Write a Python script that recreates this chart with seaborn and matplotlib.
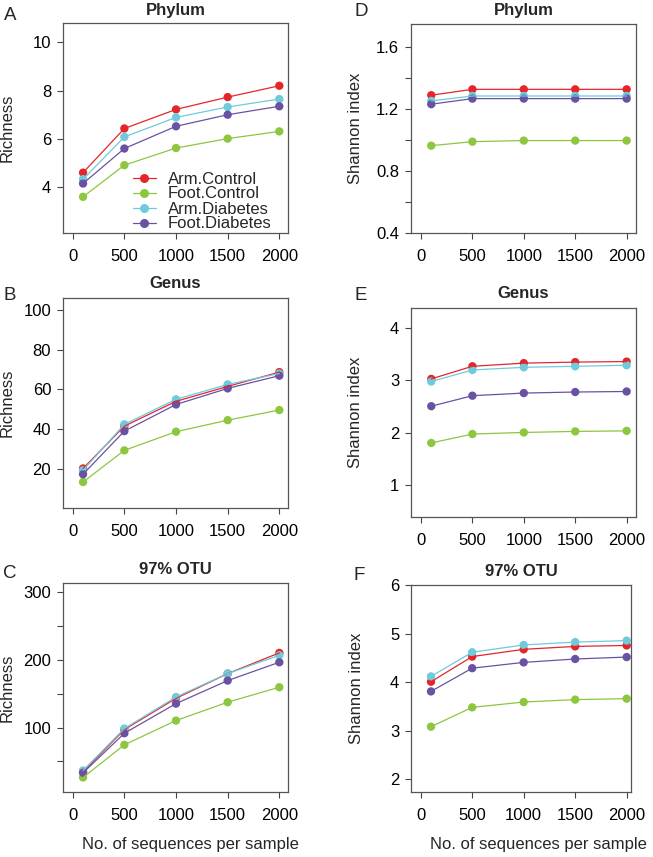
import pandas as pd
import seaborn as sns
import matplotlib.pyplot as plt
from matplotlib.lines import Line2D

# Dữ liệu
seqs = [100, 500, 1000, 1500, 2000]
groups = ['Arm.Control', 'Foot.Control', 'Arm.Diabetes', 'Foot.Diabetes']
colors = ['#E4262B', '#8DC63F', '#6DCBDB', '#6A52A3']

phylum_richness = {
    'Arm.Control': [4.6, 6.43, 7.22, 7.73, 8.2],
    'Foot.Control': [3.6, 4.91, 5.62, 6.01, 6.31],
    'Arm.Diabetes': [4.33, 6.08, 6.89, 7.32, 7.65],
    'Foot.Diabetes': [4.15, 5.6, 6.52, 7.0, 7.35],
}
genus_richness = {
    'Arm.Control': [20.2, 41.5, 54.0, 61.5, 68.7],
    'Foot.Control': [13.4, 29.3, 38.7, 44.5, 49.6],
    'Arm.Diabetes': [19.3, 42.4, 55.0, 62.5, 68.0],
    'Foot.Diabetes': [17.3, 39.0, 52.4, 60.5, 66.9],
}
otu_richness = {
    'Arm.Control': [35.0, 97.0, 143.0, 179.5, 210.0],
    'Foot.Control': [26.4, 74.5, 110.3, 137.3, 159.4],
    'Arm.Diabetes': [36.7, 98.5, 145.0, 179.5, 206.5],
    'Foot.Diabetes': [33.3, 91.6, 135.3, 169.2, 196.2],
}
phylum_shannon = {
    'Arm.Control': [1.29, 1.328, 1.328, 1.328, 1.328],
    'Foot.Control': [0.964, 0.99, 0.997, 0.997, 0.997],
    'Arm.Diabetes': [1.253, 1.285, 1.285, 1.285, 1.285],
    'Foot.Diabetes': [1.232, 1.268, 1.268, 1.268, 1.268],
}
genus_shannon = {
    'Arm.Control': [3.03, 3.27, 3.33, 3.35, 3.36],
    'Foot.Control': [1.81, 1.98, 2.01, 2.03, 2.04],
    'Arm.Diabetes': [2.98, 3.2, 3.25, 3.27, 3.29],
    'Foot.Diabetes': [2.51, 2.71, 2.76, 2.78, 2.79],
}
otu_shannon = {
    'Arm.Control': [4.01, 4.53, 4.68, 4.74, 4.76],
    'Foot.Control': [3.08, 3.48, 3.59, 3.64, 3.66],
    'Arm.Diabetes': [4.12, 4.62, 4.77, 4.83, 4.86],
    'Foot.Diabetes': [3.81, 4.29, 4.41, 4.48, 4.52],
}

sns.set_style('ticks')
plt.rcParams['font.family'] = ['Liberation Sans', 'DejaVu Sans']
FS = 12

W, H = 653, 857
fig = plt.figure(figsize=(W / 100, H / 100), dpi=100)


def to_long(d):
    rows = []
    for g in groups:
        for s, v in zip(seqs, d[g]):
            rows.append({'seqs': s, 'value': v, 'group': g})
    return pd.DataFrame(rows)


def panel(box, data, xlim, ylim, yticks, ylabels, ylabel, title, letter, letter_xy,
          title_y, xlabel_x=None):
    l, t, r, b = box
    ax = fig.add_axes([l / W, 1 - b / H, (r - l) / W, (b - t) / H])
    df = to_long(data)
    sns.lineplot(data=df, x='seqs', y='value', hue='group', hue_order=groups,
                 palette=colors, linewidth=0.9, legend=False, ax=ax)
    # chấm trắng tạo khoảng hở như type="b" trong R
    sns.scatterplot(data=df, x='seqs', y='value', color='white', s=140,
                    linewidth=0, legend=False, ax=ax)
    sns.scatterplot(data=df, x='seqs', y='value', hue='group', hue_order=groups,
                    palette=colors, s=36, linewidth=0, legend=False, ax=ax)
    ax.set_xlim(*xlim)
    ax.set_ylim(*ylim)
    ax.set_xticks([0, 500, 1000, 1500, 2000])
    ax.set_yticks(yticks)
    ax.set_yticklabels(ylabels)
    ax.tick_params(axis='both', direction='out', length=4.5, width=0.8,
                   color='#444444', labelsize=FS, labelcolor='black')
    ax.tick_params(axis='x', pad=7)
    ax.tick_params(axis='y', pad=4)
    for sp in ax.spines.values():
        sp.set_visible(True)
        sp.set_color('#555555')
        sp.set_linewidth(0.9)
    ax.set_xlabel('')
    ax.set_ylabel(ylabel, fontsize=FS)
    ax.yaxis.set_label_coords(-0.213, 0.5)
    fig.text((l + r) / 2 / W, 1 - title_y / H, title, ha='center', va='center',
             fontsize=FS, fontweight='bold')
    fig.text(letter_xy[0] / W, 1 - letter_xy[1] / H, letter, ha='center',
             va='center', fontsize=13.5)
    if xlabel_x is not None:
        fig.text(xlabel_x / W, 1 - 845 / H, 'No. of sequences per sample',
                 ha='center', va='center', fontsize=FS)
    return ax


axA = panel((63, 23, 288, 233), phylum_richness, (-94, 2084), (2.1, 10.8),
            [4, 6, 8, 10], ['4', '6', '8', '10'], 'Richness', 'Phylum', 'A',
            (10, 15), 10)
panel((63, 298, 288, 508), genus_richness, (-94, 2084), (0.3, 106),
      [20, 40, 60, 80, 100], ['20', '40', '60', '80', '100'], 'Richness', 'Genus',
      'B', (10, 295), 284)
panel((63, 583, 288, 792), otu_richness, (-94, 2084), (5, 313),
      [50, 100, 150, 200, 250, 300], ['', '100', '', '200', '', '300'], 'Richness',
      '97% OTU', 'C', (10, 573), 570, xlabel_x=190)
panel((411, 24, 636, 233), phylum_shannon, (-97, 2091), (0.4, 1.75),
      [0.4, 0.6, 0.8, 1.0, 1.2, 1.4, 1.6], ['0.4', '', '0.8', '', '1.2', '', '1.6'],
      'Shannon index', 'Phylum', 'D', (361, 12), 10)
panel((411, 308, 636, 517), genus_shannon, (-97, 2091), (0.4, 4.38),
      [1, 2, 3, 4], ['1', '2', '3', '4'], 'Shannon index', 'Genus', 'E',
      (361, 295), 293)
panel((411, 585, 631, 792), otu_shannon, (-94, 2042), (1.73, 6.01),
      [2, 3, 4, 5, 6], ['2', '3', '4', '5', '6'], 'Shannon index', '97% OTU', 'F',
      (359, 575), 572, xlabel_x=538)

handles = [Line2D([0], [0], color=c, lw=0.9, marker='o', markersize=6.5,
                  markeredgewidth=0) for c in colors]
axA.legend(handles, groups, loc='center left', bbox_to_anchor=(0.31, 0.15),
           frameon=False, fontsize=FS, handlelength=1.4, handletextpad=0.7,
           labelspacing=0.0, borderpad=0, borderaxespad=0)

fig.savefig('out.png', dpi=100)
plt.close(fig)
